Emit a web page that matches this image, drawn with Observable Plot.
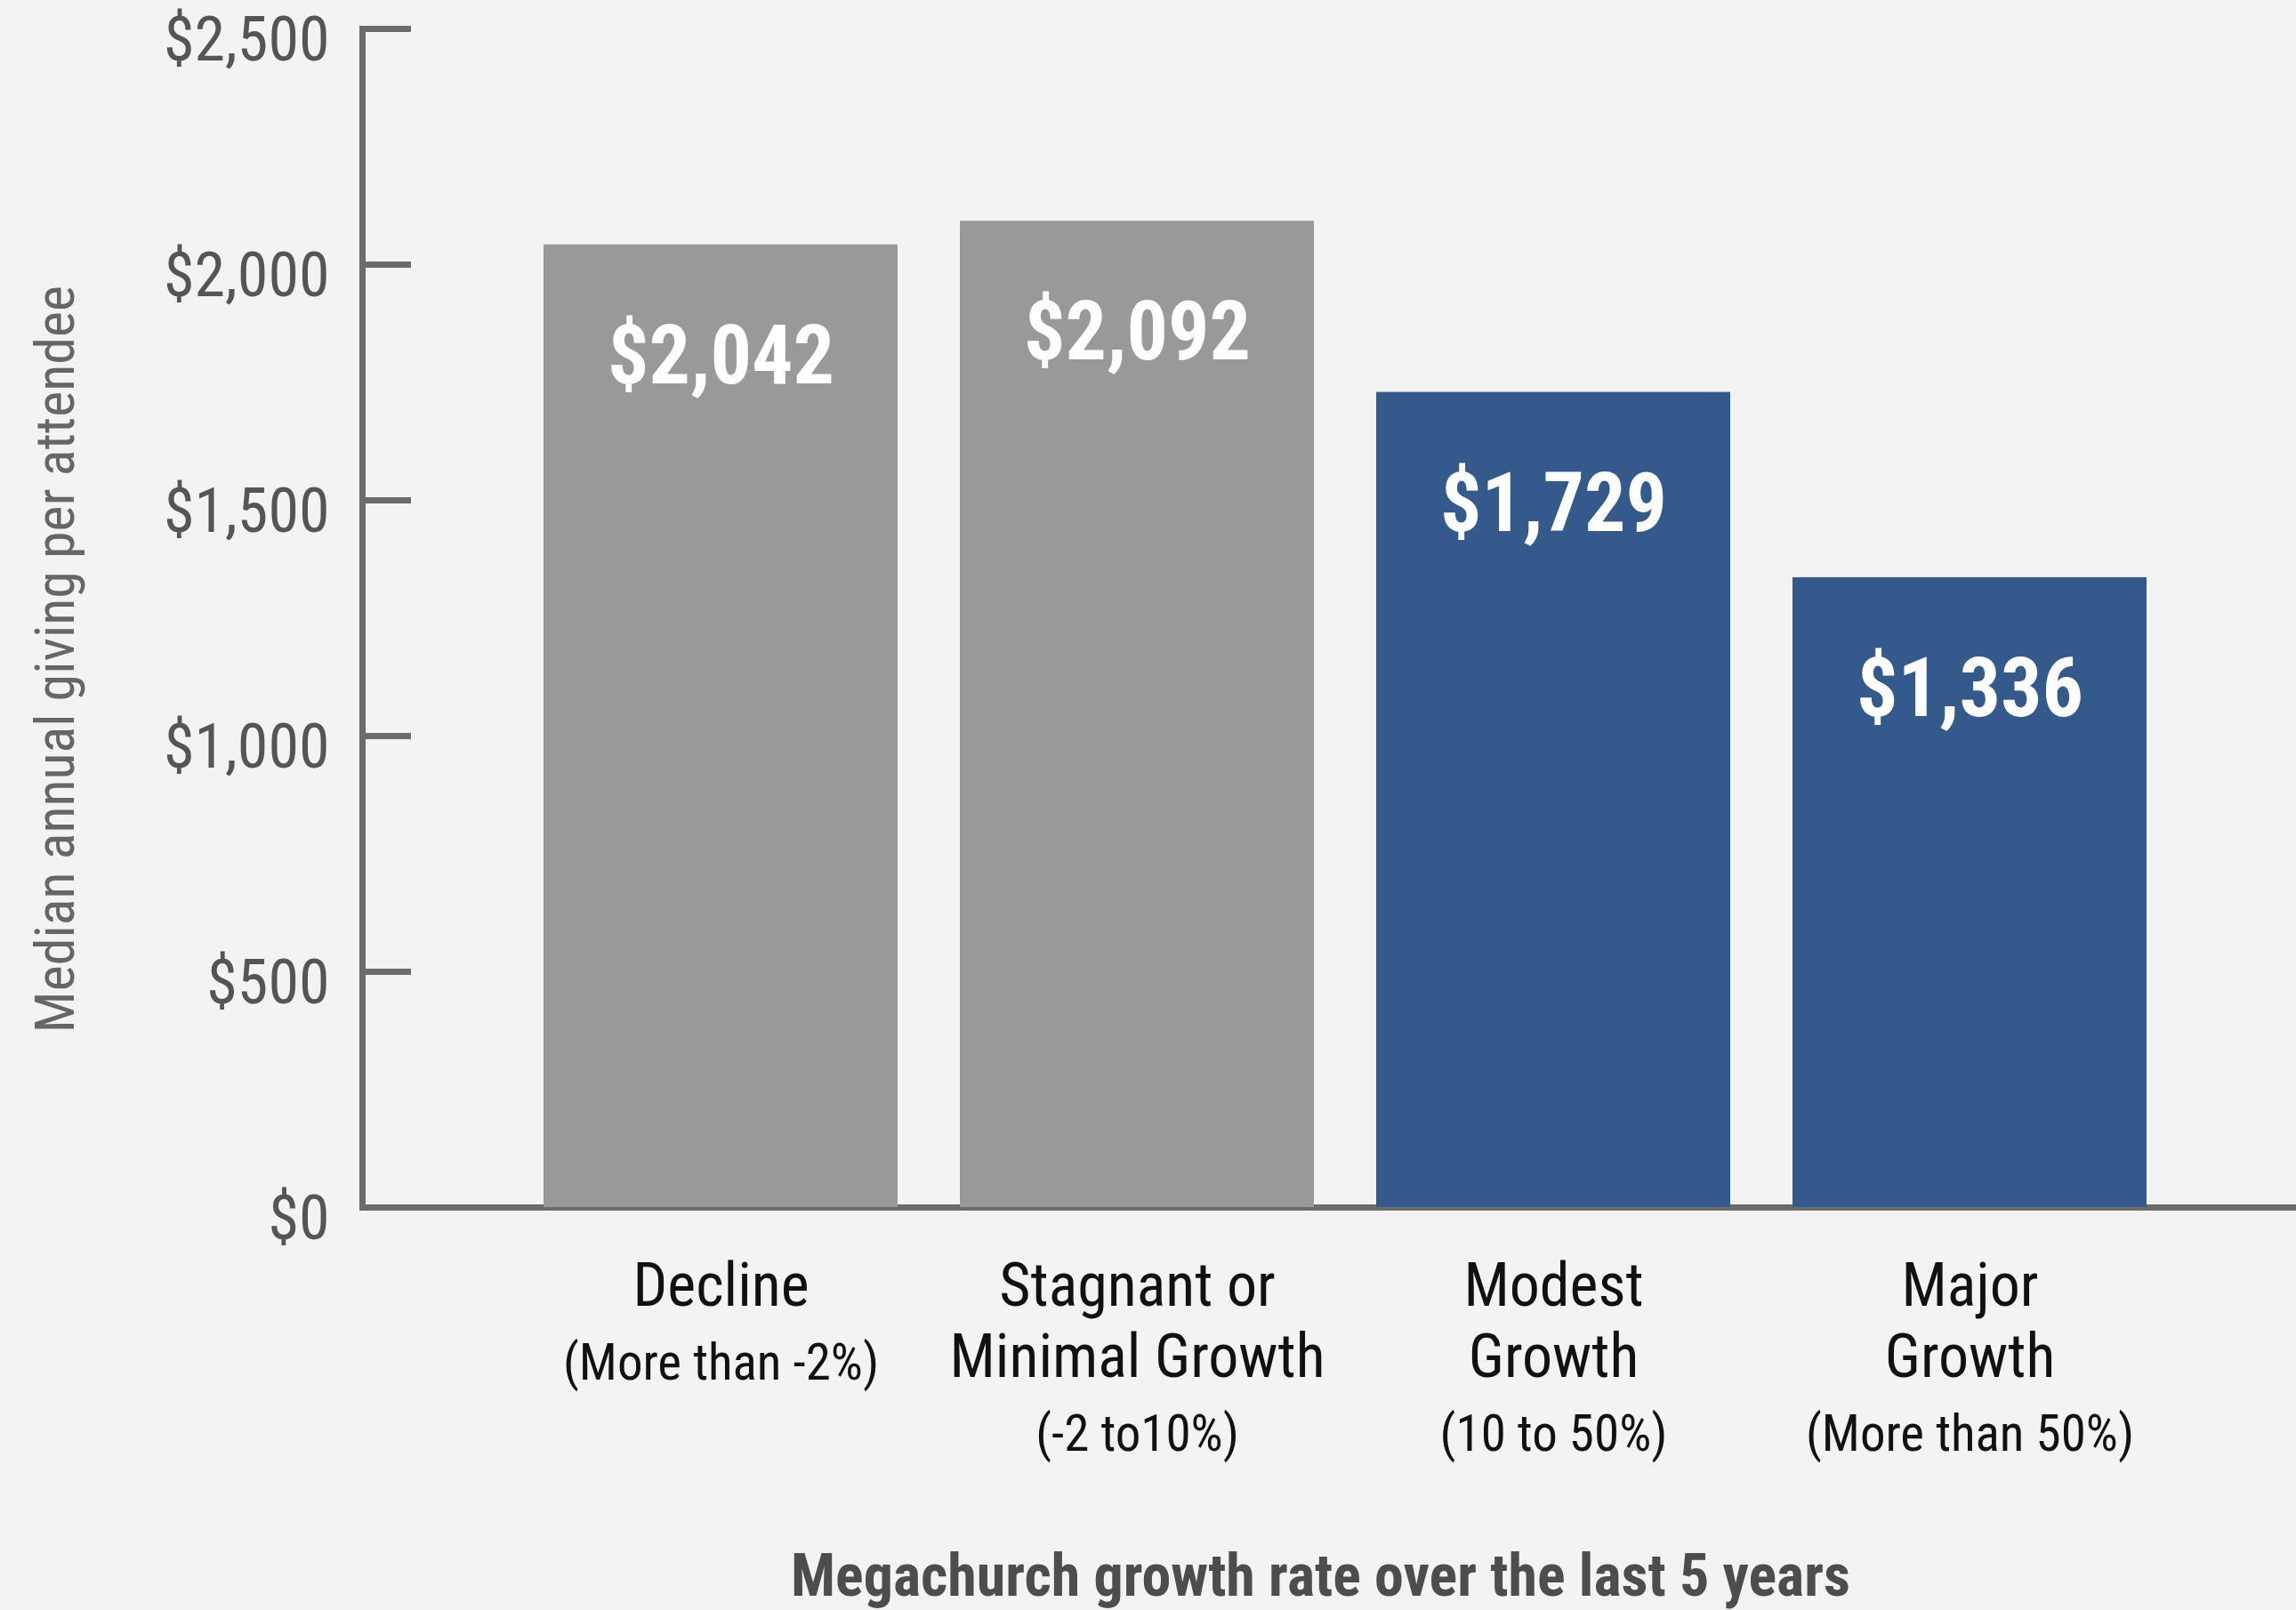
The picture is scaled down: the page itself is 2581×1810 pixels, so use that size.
<!DOCTYPE html>
<html><head><meta charset="utf-8">
<script src="https://cdn.jsdelivr.net/npm/d3@7"></script>
<script src="https://cdn.jsdelivr.net/npm/@observablehq/plot@0.6"></script>
<style>
html,body{margin:0;padding:0;background:#f3f3f3;overflow:hidden;}
</style></head><body><div id="chart"></div>
<script>
const categories = ["Decline", "Stagnant or Minimal Growth", "Modest Growth", "Major Growth"];
const mainLabels = ["Decline", "Stagnant or\nMinimal Growth", "Modest\nGrowth", "Major\nGrowth"];
const subLabels = ["(More than -2%)", "(-2 to10%)", "(10 to 50%)", "(More than 50%)"];
const values = [2042, 2092, 1729, 1336];
const groups = ["Not growing", "Not growing", "Growing", "Growing"];
const yTicks = [0, 500, 1000, 1500, 2000, 2500];
const yLabel = "Median annual giving per attendee";
const xLabel = "Megachurch growth rate over the last 5 years";

const data = categories.map((c, i) => ({
  cat: c, main: mainLabels[i], sub: subLabels[i], value: values[i], group: groups[i],
  lines: mainLabels[i].split("\n").length
}));
const FONT = '"Liberation Sans Narrow","Arial Narrow","Roboto Condensed","DejaVu Sans Condensed",sans-serif';
const fmt = d3.format(",");
const W = 2581, H = 1810, ML = 407, MR = 0, MT = 32, MB = 453;
const axisColor = "#6b6b6b";

const subMarks = [1, 2].map(n => Plot.text(data, {
  filter: d => d.lines === n, x: "cat", text: "sub", frameAnchor: "bottom", lineAnchor: "top",
  dy: 73 + 80 * n, fontSize: 57, fill: "#111"
}));

const chart = Plot.plot({
  width: W, height: H, marginTop: MT, marginBottom: MB, marginLeft: ML, marginRight: MR,
  style: {background: "#f3f3f3", fontFamily: FONT},
  x: {domain: categories, paddingInner: 0.15, paddingOuter: 0.393, align: 0.549, axis: null},
  y: {domain: [0, 2500], axis: null},
  color: {domain: ["Not growing", "Growing"], range: ["#999999", "#335a8b"]},
  marks: [
    Plot.ruleY([0], {stroke: axisColor, strokeWidth: 7}),
    Plot.barY(data, {x: "cat", y: "value", fill: "group"}),
    Plot.frame({anchor: "left", stroke: axisColor, strokeWidth: 7}),
    Plot.tickY(yTicks, {y: d => d, stroke: axisColor, strokeWidth: 7, insetRight: (W - ML - MR) - 55}),
    Plot.axisY({ticks: yTicks, tickSize: 0, tickPadding: 37, fontSize: 70, tickFormat: d => "$" + fmt(d), fill: "#555", dy: 13, label: null}),
    Plot.text(data, {x: "cat", y: "value", text: d => "$" + fmt(d.value), dy: 126, fill: "white", fontSize: 92, fontWeight: "bold", lineAnchor: "middle"}),
    Plot.text(data, {x: "cat", text: "main", frameAnchor: "bottom", lineAnchor: "top", dy: 54, fontSize: 68, lineHeight: 80 / 68, fill: "#111"}),
    ...subMarks,
    Plot.text([xLabel], {frameAnchor: "bottom", lineAnchor: "top", dy: 390, dx: -10, fontSize: 66, fontWeight: "bold", fill: "#4d4d4d"}),
    Plot.text([yLabel], {frameAnchor: "left", textAnchor: "middle", rotate: -90, dx: -344, dy: 46, fontSize: 62, fill: "#666", lineAnchor: "middle"})
  ]
});
document.getElementById("chart").appendChild(chart);
</script></body></html>
